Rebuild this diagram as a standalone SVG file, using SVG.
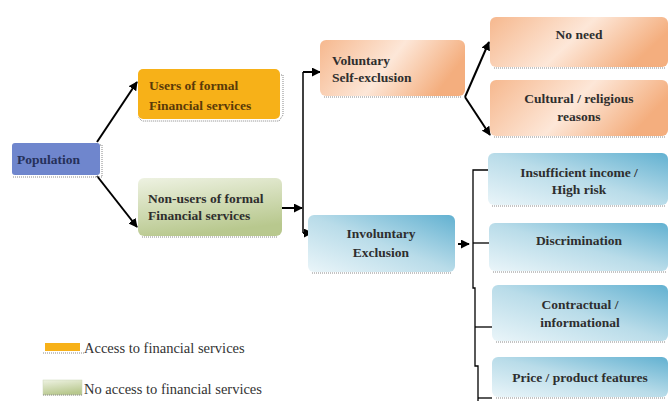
<svg xmlns="http://www.w3.org/2000/svg" width="670" height="401" viewBox="0 0 670 401">
<defs>
<linearGradient id="gGreen" x1="0" y1="0" x2="0.3" y2="1"><stop offset="0" stop-color="#eef2e2"/><stop offset="1" stop-color="#b8c88e"/></linearGradient>
<linearGradient id="gPeach" x1="0" y1="0" x2="1" y2="0.3"><stop offset="0" stop-color="#f6b88e"/><stop offset="0.55" stop-color="#fde7d8"/><stop offset="1" stop-color="#f4ae7e"/></linearGradient>
<linearGradient id="gBlue" x1="0" y1="1" x2="1" y2="0"><stop offset="0" stop-color="#eaf5f9"/><stop offset="0.5" stop-color="#b9dce9"/><stop offset="1" stop-color="#62b1d1"/></linearGradient>
<marker id="ah" viewBox="0 0 10 10" refX="9" refY="5" markerWidth="4.5" markerHeight="4.5" orient="auto"><path d="M0,0 L10,5 L0,10 z" fill="#000"/></marker>
</defs>
<style>
text{font-family:"Liberation Serif","Times New Roman",serif;font-size:13.5px;font-weight:bold;fill:#2e2e2e}
.c{text-anchor:middle}
.leg{font-weight:normal;font-size:14.5px;fill:#333}
.sh{fill:none;stroke:#888;stroke-width:1;stroke-dasharray:1 1}
.ln{fill:none;stroke:#000;stroke-width:2}
.ar{fill:none;stroke:#000;stroke-width:2;marker-end:url(#ah)}
.tk{fill:none;stroke:#000;stroke-width:1.3}
</style>
<rect width="670" height="401" fill="#fff"/>
<g id="connectors">
<line class="ar" x1="97" y1="142" x2="137" y2="82"/>
<line class="ar" x1="97" y1="176" x2="137" y2="227"/>
<line class="ar" x1="282" y1="208" x2="302" y2="208"/>
<polyline class="ln" points="303,72 303,233" style="stroke-width:1.5"/>
<line class="ar" x1="303" y1="72" x2="320" y2="72"/>
<line class="ar" x1="303" y1="233" x2="312" y2="233"/>
<line class="ar" x1="465" y1="97" x2="489" y2="42"/>
<line class="ar" x1="465" y1="97" x2="490" y2="135"/>
<line class="ar" x1="458" y1="244" x2="469" y2="244"/>
<polyline class="tk" points="488,170 473,170 473,288 475,288 475,366 478,366 478,401"/>
<line class="tk" x1="473" y1="243" x2="489" y2="243"/>
<line class="tk" x1="475" y1="327" x2="494" y2="327"/>
<line class="tk" x1="478" y1="398" x2="492" y2="398"/>
</g>
<g id="population">
<rect x="12" y="143" width="88" height="32" rx="3" fill="#6f86cd"/>
<polyline class="sh" points="100,145 102,145 102,177 12,177"/>
<text x="17" y="164" style="fill:#26315a">Population</text>
</g>
<g id="users">
<rect x="138" y="69" width="142" height="50" rx="5" fill="#f7b118"/>
<polyline class="sh" points="281,75 283,75 283,115 279,121 142,121 138,117"/>
<text x="149" y="90" style="fill:#5a3a08">Users of formal</text>
<text x="149" y="110" style="fill:#5a3a08">Financial services</text>
</g>
<g id="nonusers">
<rect x="138" y="178" width="144" height="58" rx="6" fill="url(#gGreen)"/>
<line class="sh" x1="142" y1="237" x2="278" y2="237"/>
<text x="148" y="203">Non-users of formal</text>
<text x="148" y="220">Financial services</text>
</g>
<g id="voluntary">
<rect x="320" y="40" width="145" height="56" rx="6" fill="url(#gPeach)"/>
<line class="sh" x1="324" y1="97" x2="462" y2="97"/>
<text x="332" y="65">Voluntary</text>
<text x="332" y="82">Self-exclusion</text>
</g>
<g id="noneed">
<rect x="490" y="17" width="178" height="50" rx="6" fill="url(#gPeach)"/>
<line class="sh" x1="494" y1="68" x2="666" y2="68"/>
<text class="c" x="579" y="39">No need</text>
</g>
<g id="cultural">
<rect x="490" y="80" width="178" height="56" rx="6" fill="url(#gPeach)"/>
<line class="sh" x1="494" y1="137" x2="666" y2="137"/>
<text class="c" x="579" y="103">Cultural / religious</text>
<text class="c" x="579" y="121">reasons</text>
</g>
<g id="involuntary">
<rect x="308" y="215" width="147" height="57" rx="6" fill="url(#gBlue)"/>
<line class="sh" x1="312" y1="273" x2="452" y2="273"/>
<text class="c" x="381" y="238">Involuntary</text>
<text class="c" x="381" y="257">Exclusion</text>
</g>
<g id="insufficient">
<rect x="488" y="153" width="180" height="52" rx="6" fill="url(#gBlue)"/>
<line class="sh" x1="492" y1="206" x2="666" y2="206"/>
<text class="c" x="579" y="177">Insufficient income /</text>
<text class="c" x="579" y="194">High risk</text>
</g>
<g id="discrimination">
<rect x="489" y="223" width="179" height="48" rx="6" fill="url(#gBlue)"/>
<line class="sh" x1="493" y1="272" x2="666" y2="272"/>
<text class="c" x="579" y="245">Discrimination</text>
</g>
<g id="contractual">
<rect x="492" y="285" width="176" height="56" rx="6" fill="url(#gBlue)"/>
<line class="sh" x1="496" y1="342" x2="666" y2="342"/>
<text class="c" x="580" y="309">Contractual /</text>
<text class="c" x="580" y="327">informational</text>
</g>
<g id="price">
<rect x="492" y="357" width="176" height="40" rx="6" fill="url(#gBlue)"/>
<line class="sh" x1="496" y1="398" x2="666" y2="398"/>
<text class="c" x="580" y="382">Price / product features</text>
</g>
<g id="legend">
<rect x="45" y="343" width="35" height="8" fill="#f7b118"/>
<line class="sh" x1="43" y1="353" x2="84" y2="353"/>
<text class="leg" x="84" y="353">Access to financial services</text>
<rect x="43" y="380" width="39" height="15" fill="url(#gGreen)" stroke="#ccd6b8" stroke-width="0.5"/>
<line class="sh" x1="43" y1="395" x2="82" y2="395"/>
<text class="leg" x="84" y="394">No access to financial services</text>
</g>
</svg>
